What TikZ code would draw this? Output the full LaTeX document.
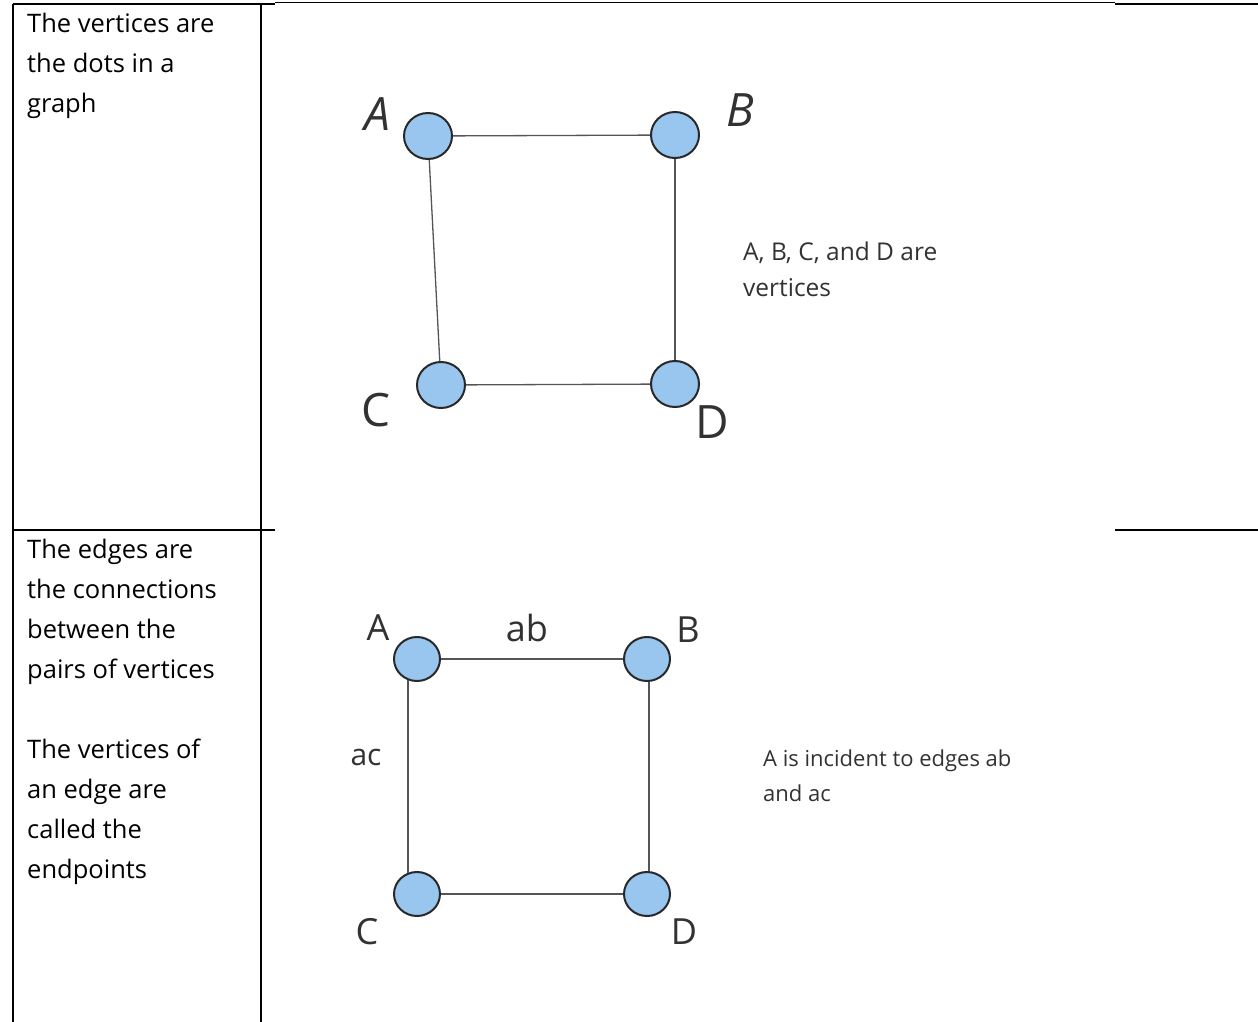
\documentclass[tikz,border=0pt]{standalone}
\usepackage{fontspec}
\setmainfont{Open Sans}
\usetikzlibrary{shapes.geometric}
\definecolor{dotfill}{RGB}{152,198,238}
\definecolor{dotline}{RGB}{40,40,40}
\definecolor{edgecol}{RGB}{85,85,85}
\definecolor{inkcol}{RGB}{50,50,50}
\tikzset{
  vtx/.style={ellipse, draw=dotline, line width=2pt, fill=dotfill, minimum width=48, minimum height=46, inner sep=0pt},
  vtxs/.style={vtx, minimum width=46, minimum height=44},
  edg/.style={draw=edgecol, line width=1.3pt},
  rule/.style={draw=black, line width=2.6pt},
  thinrule/.style={draw=black, line width=1pt},
  celltext/.style={anchor=north west, align=left, inner sep=0pt, font=\fontsize{25.5}{40}\selectfont, text=black},
  bigletter/.style={inner sep=0pt, text=inkcol, font=\fontsize{46}{46}\selectfont},
  midletter/.style={inner sep=0pt, text=inkcol, font=\fontsize{36}{36}\selectfont},
  note/.style={anchor=north west, align=left, inner sep=0pt, text=inkcol},
}
\begin{document}
\begin{tikzpicture}[x=1pt,y=-1pt]
\useasboundingbox (0,0) rectangle (1258,1022);
% table rules
\coordinate (tl) at (13,4);
\coordinate (tm) at (275,4);
\coordinate (tr) at (1115,3);
\coordinate (tre) at (1115,4);
\coordinate (te) at (1258,4);
\coordinate (bl) at (13,1022);
\coordinate (vd) at (261,4);
\coordinate (vdb) at (261,1022);
\coordinate (ml) at (13,530);
\coordinate (mm) at (275,530);
\coordinate (mr) at (1115,530);
\coordinate (me) at (1258,530);
\coordinate (tmt) at (275,3);
\draw[rule] (tl) -- (tm);
\draw[thinrule] (tmt) -- (tr);
\draw[rule] (tre) -- (te);
\draw[rule] (tl) -- (bl);
\draw[rule] (vd) -- (vdb);
\draw[rule] (ml) -- (mm);
\draw[rule] (mr) -- (me);

% left cell texts
\node[celltext] (t1) at (27,13) {The vertices are\\the dots in a\\graph};
\node[celltext] (t2) at (27,539) {The edges are\\the connections\\between the\\pairs of vertices\\[40pt]The vertices of\\an edge are\\called the\\endpoints};

% top graph
\node[vtx] (A) at (428,136) {};
\node[vtx] (B) at (675,135) {};
\node[vtx] (C) at (441,385) {};
\node[vtx] (D) at (675,384) {};
\draw[edg] (A) -- (B);
\draw[edg] (A) -- (C);
\draw[edg] (B) -- (D);
\draw[edg] (C) -- (D);
\node[bigletter] (lA) at (377,114) {\itshape A};
\node[bigletter] (lB) at (740,110) {\itshape B};
\node[bigletter] (lC) at (376,410) {C};
\node[bigletter] (lD) at (712,422) {D};
\node[note, font=\fontsize{24.5}{36}\selectfont] (n1) at (743,242) {A, B, C, and D are\\vertices};

% bottom graph
\node[vtxs] (A2) at (417,659) {};
\node[vtxs] (B2) at (647,659) {};
\node[vtxs] (C2) at (417,894) {};
\node[vtxs] (D2) at (647,894) {};
\draw[edg] (A2) -- (B2);
\draw[edg] (A2.247) -- (C2.113);
\draw[edg] (B2.-85) -- (D2.85);
\draw[edg] (C2) -- (D2);
\node[midletter] (lA2) at (378,628) {A};
\node[midletter] (lab) at (527,628) {ab};
\node[midletter] (lB2) at (688,630) {B};
\node[midletter, font=\fontsize{30}{30}\selectfont] (lac) at (366,757) {ac};
\node[midletter] (lC2) at (367,932) {C};
\node[midletter] (lD2) at (684,932) {D};
\node[note, font=\fontsize{22}{35}\selectfont] (n2) at (763,750) {A is incident to edges ab\\and ac};
\end{tikzpicture}
\end{document}
